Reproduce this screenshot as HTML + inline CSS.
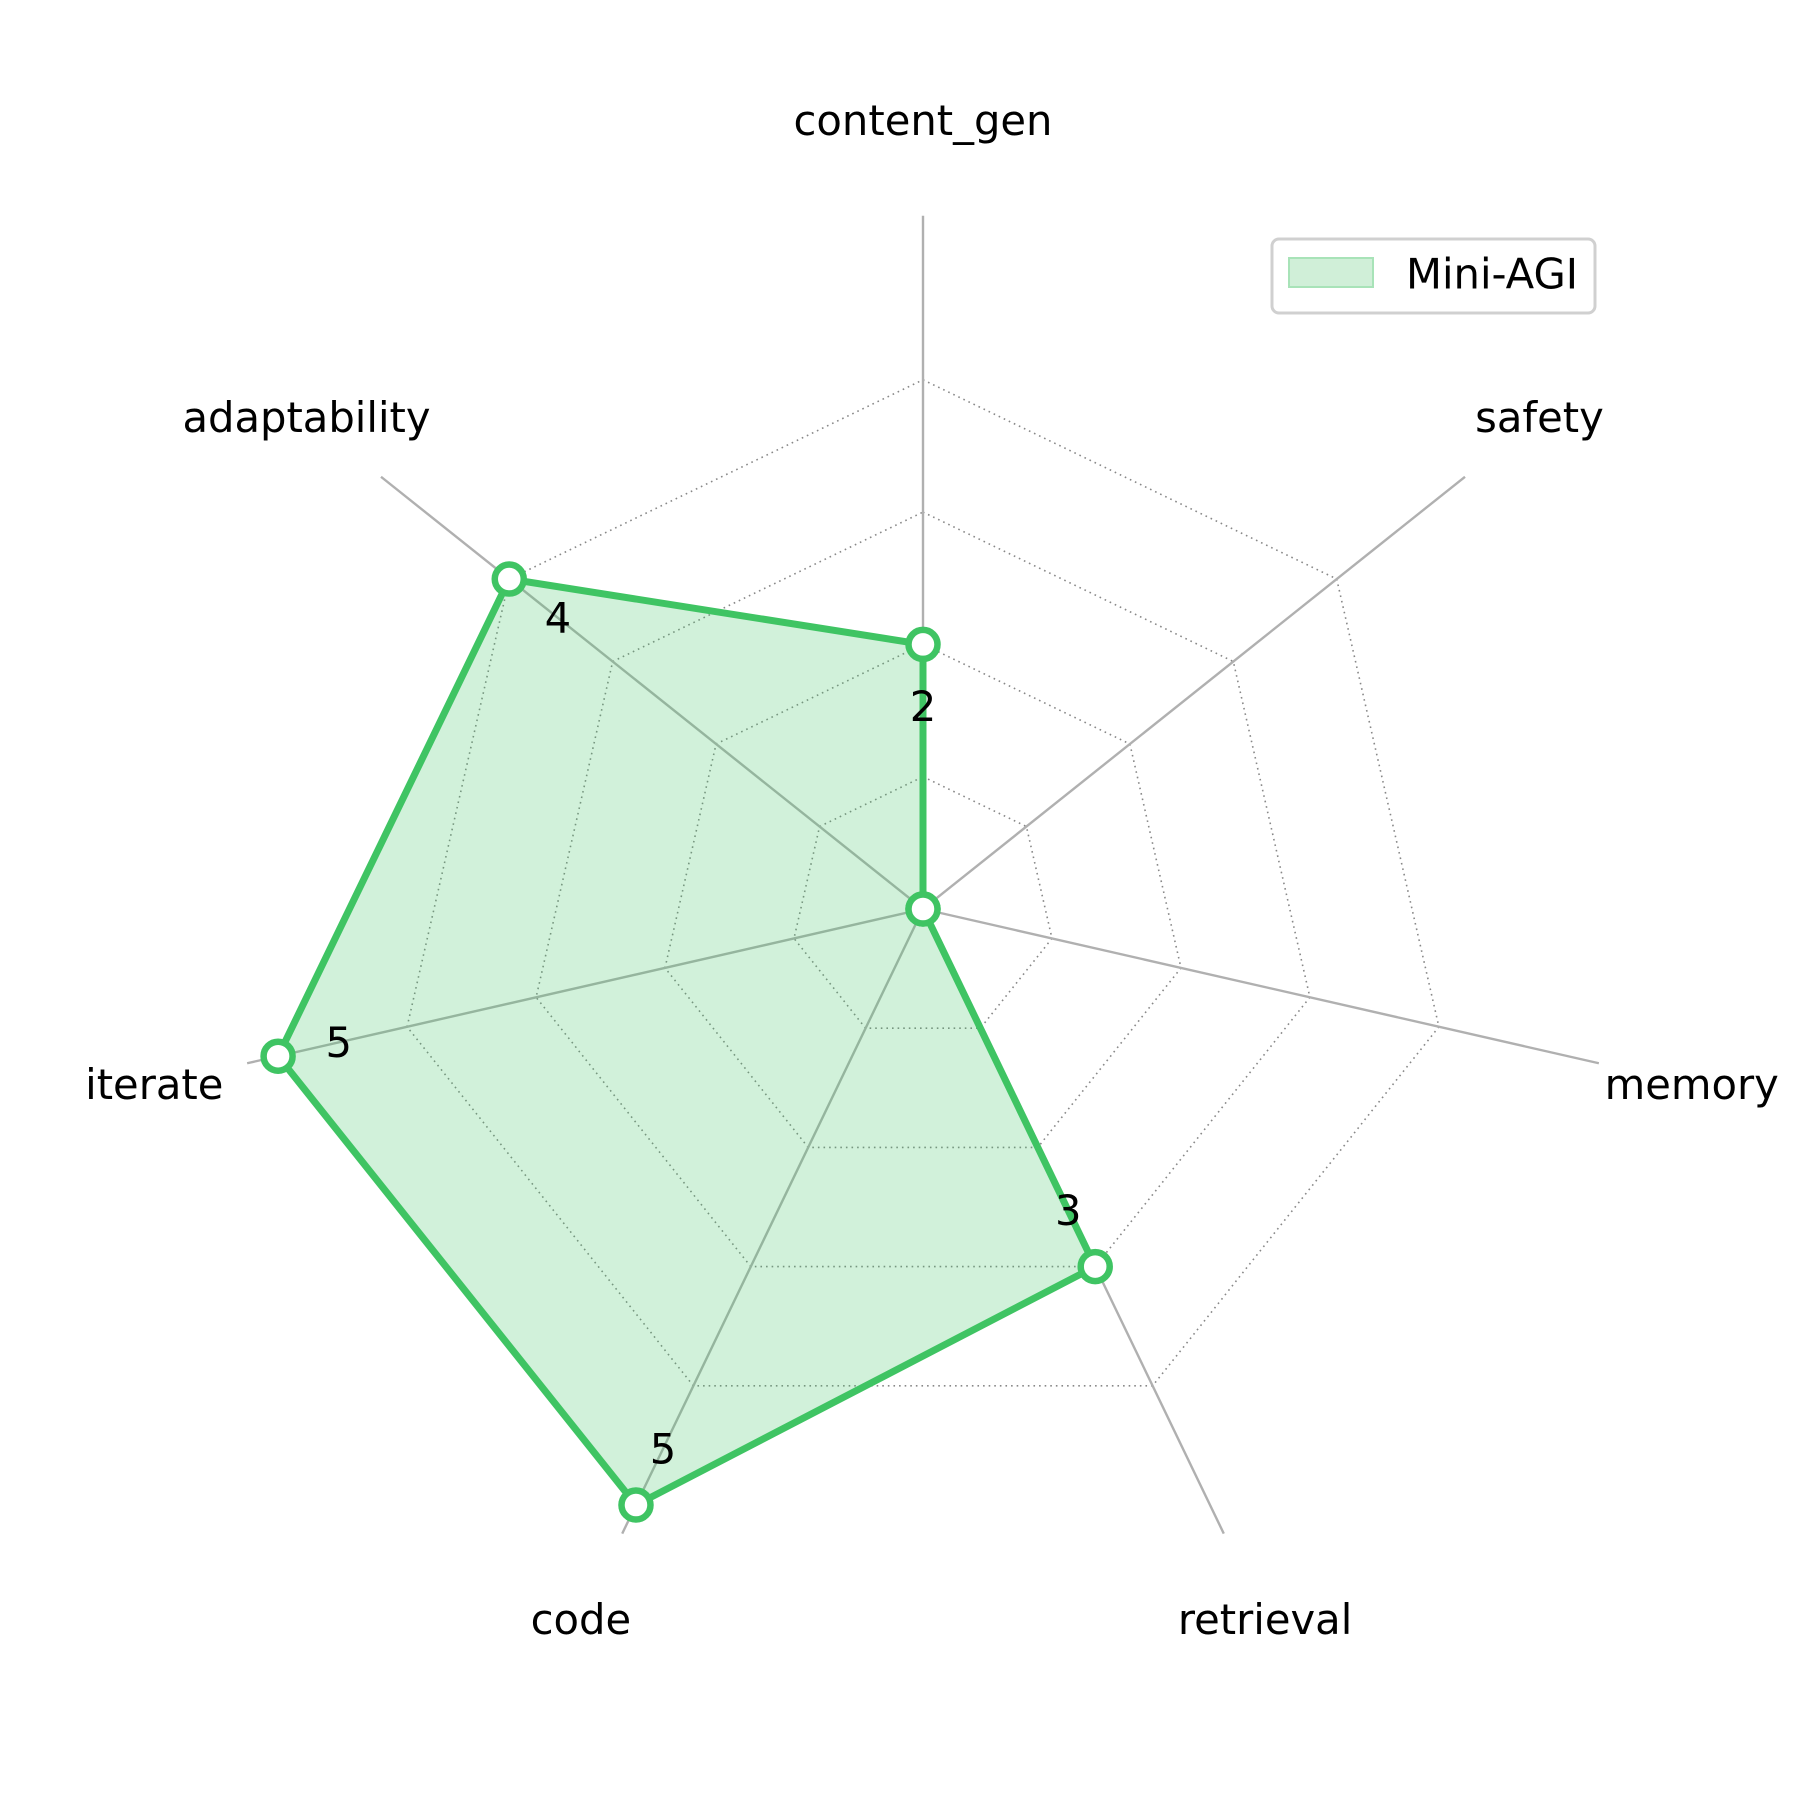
<!DOCTYPE html>
<html><head><meta charset="utf-8"><style>
html,body{margin:0;padding:0;background:#fff;}
svg{display:block;font-family:"DejaVu Sans","Liberation Sans",sans-serif;}
</style></head><body>
<svg id="chart" width="1800" height="1800" viewBox="0 0 1800 1800">
<g id="grid"></g>
<g id="series"></g>
<g id="labels"></g>
<g>
<rect x="1272" y="239" width="323" height="74" rx="7" fill="#fff" stroke="#d0d0d0" stroke-width="3"/>
<rect x="1289" y="258" width="84" height="29" fill="#d0efd8" stroke="#a8e3b8" stroke-width="2"/>
<text x="1406" y="274" font-size="41.7" dominant-baseline="central" fill="#000">Mini-AGI</text>
</g>
</svg>
<script>
const categories = ["content_gen","safety","memory","retrieval","code","iterate","adaptability"];
const values = [2,0,0,3,5,5,4];
const ringTicks = [1,2,3,4];

const NS = "http://www.w3.org/2000/svg";
const cx = 923, cy = 909, unit = 132.3, rMax = 5.24, labelR = 5.96, valOff = 0.47;
const n = categories.length;
function ang(i){ return i*2*Math.PI/n; }
function px(i,v){ return cx + v*unit*Math.sin(ang(i)); }
function py(i,v){ return cy - v*unit*Math.cos(ang(i)); }
function mk(tag, attrs, parent){ const e=document.createElementNS(NS,tag); for(const k in attrs) e.setAttribute(k,attrs[k]); parent.appendChild(e); return e; }

const grid = document.getElementById('grid');
ringTicks.forEach(t=>{
  const pts = categories.map((c,i)=>px(i,t).toFixed(1)+','+py(i,t).toFixed(1)).join(' ');
  const p = mk('polygon',{points:pts,fill:'none',stroke:'#888','stroke-width':1.6,'stroke-dasharray':'1.6,4'},grid);
  
  
});
categories.forEach((c,i)=>{
  const l = mk('line',{x1:cx,y1:cy,x2:px(i,rMax),y2:py(i,rMax),stroke:'#b0b0b0','stroke-width':2.4},grid);
  
  
});

const ser = document.getElementById('series');
const pts = values.map((v,i)=>px(i,v).toFixed(1)+','+py(i,v).toFixed(1)).join(' ');
const poly = mk('polygon',{points:pts,fill:'#3fc463','fill-opacity':0.24,stroke:'#3fc463','stroke-width':7,'stroke-linejoin':'miter'},ser);


values.forEach((v,i)=>{
  const c = mk('circle',{cx:px(i,v),cy:py(i,v),r:14.5,fill:'#fff',stroke:'#3fc463','stroke-width':6.5},ser);
  
  
  if(v>0){
    const t = mk('text',{x:px(i,v-valOff),y:py(i,v-valOff),'font-size':41.7,'text-anchor':'middle','dominant-baseline':'central',fill:'#000'},ser);
    t.textContent = String(v);
    
    
  }
});

const lab = document.getElementById('labels');
categories.forEach((c,i)=>{
  const t = mk('text',{x:px(i,labelR),y:py(i,labelR),'font-size':41.7,'text-anchor':'middle','dominant-baseline':'central',fill:'#000'},lab);
  t.textContent = c;
  
  
});
</script>
</body></html>
